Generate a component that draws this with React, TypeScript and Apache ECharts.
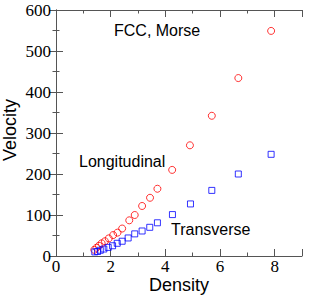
import React, { useEffect, useRef } from "react";
import * as echarts from "echarts";

const longDensity = [1.40, 1.48, 1.57, 1.67, 1.79, 1.93, 2.09, 2.25, 2.42, 2.68, 2.88, 3.15, 3.44, 3.71, 4.25, 4.90, 5.70, 6.67, 7.87];
const longVelocity = [15, 20, 25, 31, 36, 43, 51, 57, 67, 87, 100, 122, 142, 164, 210, 270, 342, 434, 549];
const transDensity = [1.42, 1.52, 1.62, 1.75, 1.91, 2.07, 2.24, 2.42, 2.64, 2.88, 3.15, 3.43, 3.71, 4.26, 4.92, 5.70, 6.67, 7.87];
const transVelocity = [10, 11, 14, 17, 21, 25, 31, 36, 44, 54, 61, 70, 81, 101, 127, 160, 200, 248];

const xLabels = [0, 2, 4, 6, 8];

export default function App() {
  const ref = useRef<HTMLDivElement>(null);
  useEffect(() => {
    if (!ref.current) return;
    const chart = echarts.init(ref.current, null, { renderer: "svg" });
    const axisColor = "#555";
    const labelFont = { fontFamily: "Liberation Serif", fontSize: 17, color: "#000" };
    const baseX = {
      type: "value" as const,
      min: 0,
      max: 9,
      splitLine: { show: false },
    };
    const baseY = {
      type: "value" as const,
      min: 0,
      max: 600,
      interval: 100,
      splitLine: { show: false },
    };
    chart.setOption({
      animation: false,
      grid: { left: 56, top: 10, right: 8, bottom: 46, containLabel: false },
      xAxis: [
        {
          ...baseX,
          position: "bottom",
          interval: 2,
          axisLine: { show: true, lineStyle: { color: axisColor, width: 1 } },
          axisTick: { show: true, inside: true, length: 7, lineStyle: { color: axisColor } },
          axisLabel: {
            ...labelFont,
            margin: 2,
            formatter: (v: number) => (xLabels.indexOf(v) >= 0 ? String(v) : ""),
          },
        },
        {
          ...baseX,
          position: "bottom",
          interval: 1,
          axisLine: { show: false },
          axisTick: { show: true, inside: true, length: 3.5, lineStyle: { color: axisColor } },
          axisLabel: { show: false },
        },
        {
          ...baseX,
          position: "top",
          interval: 2,
          axisLine: { show: true, lineStyle: { color: axisColor, width: 1 } },
          axisTick: { show: true, inside: true, length: 7, lineStyle: { color: axisColor } },
          axisLabel: { show: false },
        },
        {
          ...baseX,
          position: "top",
          interval: 1,
          axisLine: { show: false },
          axisTick: { show: true, inside: true, length: 3.5, lineStyle: { color: axisColor } },
          axisLabel: { show: false },
        },
      ],
      yAxis: [
        {
          ...baseY,
          position: "left",
          axisLine: { show: true, lineStyle: { color: axisColor, width: 1 } },
          axisTick: { show: true, inside: true, length: 7, lineStyle: { color: axisColor } },
          minorTick: { show: true, splitNumber: 2, length: 3.5, lineStyle: { color: axisColor } },
          axisLabel: { ...labelFont, margin: 5 },
        },
        {
          ...baseY,
          position: "right",
          axisLine: { show: true, lineStyle: { color: axisColor, width: 1 } },
          axisTick: { show: true, inside: true, length: 7, lineStyle: { color: axisColor } },
          minorTick: { show: true, splitNumber: 2, length: 3.5, lineStyle: { color: axisColor } },
          axisLabel: { show: false },
        },
      ],
      series: [
        {
          type: "scatter",
          xAxisIndex: 0,
          yAxisIndex: 0,
          symbol: "circle",
          symbolSize: 7,
          itemStyle: { color: "transparent", borderColor: "#ff0000", borderWidth: 1 },
          data: longDensity.map((d, i) => [d, longVelocity[i]]),
        },
        {
          type: "scatter",
          xAxisIndex: 0,
          yAxisIndex: 0,
          symbol: "rect",
          symbolSize: 6,
          itemStyle: { color: "transparent", borderColor: "#0000ff", borderWidth: 1 },
          data: transDensity.map((d, i) => [d, transVelocity[i]]),
        },
      ],
      graphic: [
        {
          type: "text",
          left: 114,
          top: 22,
          style: { text: "FCC, Morse", font: "16px 'Liberation Sans'", fill: "#000" },
        },
        {
          type: "text",
          left: 79,
          top: 153,
          style: { text: "Longitudinal", font: "16px 'Liberation Sans'", fill: "#000" },
        },
        {
          type: "text",
          left: 171,
          top: 221,
          style: { text: "Transverse", font: "16px 'Liberation Sans'", fill: "#000" },
        },
        {
          type: "text",
          x: 179,
          y: 285,
          style: {
            text: "Density",
            font: "18px 'Liberation Sans'",
            fill: "#000",
            align: "center",
            verticalAlign: "middle",
          },
        },
        {
          type: "text",
          x: 10,
          y: 130,
          rotation: Math.PI / 2,
          style: {
            text: "Velocity",
            font: "18px 'Liberation Sans'",
            fill: "#000",
            align: "center",
            verticalAlign: "middle",
          },
        },
      ],
    });
    return () => chart.dispose();
  }, []);
  return <div ref={ref} style={{ width: 310, height: 302, position: "absolute", left: 0, top: 0 }} />;
}
